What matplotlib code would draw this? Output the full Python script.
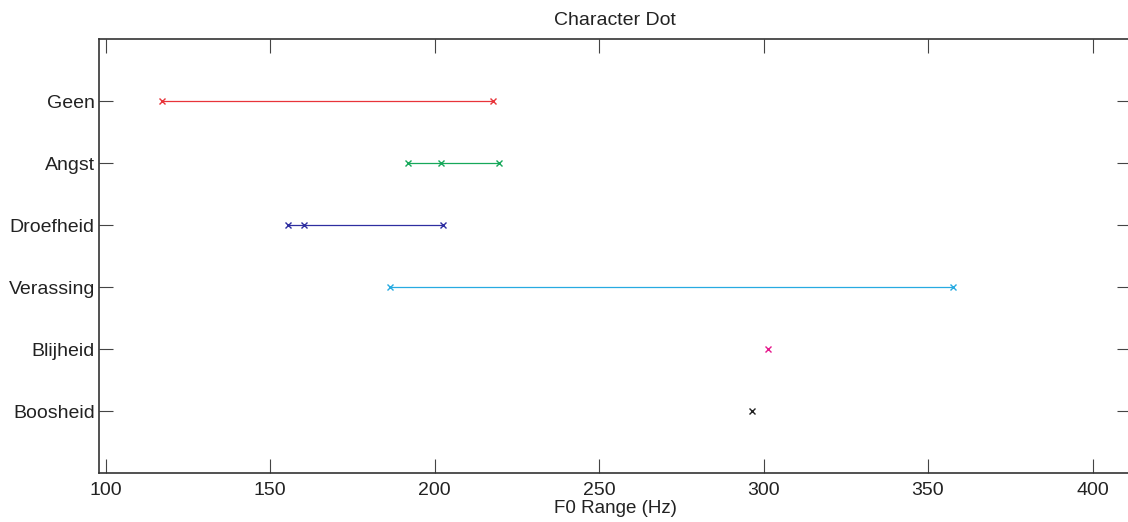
import numpy as np
import matplotlib
matplotlib.use("Agg")
import matplotlib.pyplot as plt

plt.rcParams["font.family"] = ["Liberation Sans", "DejaVu Sans"]

emotions = ["Geen", "Angst", "Droefheid", "Verassing", "Blijheid", "Boosheid"]
f0_values = [
    [117.3, 217.9],
    [191.8, 201.9, 219.6],
    [155.5, 160.2, 202.5],
    [186.6, 357.6],
    [301.3],
    [296.4],
]
colors = ["#e8343a", "#16a85a", "#2e2ea0", "#27aae1", "#e6198c", "#222222"]

fig = plt.figure(figsize=(11.28, 5.22), dpi=100)
ax = fig.add_axes([99 / 1128, 1 - 473 / 522, 1032 / 1128, 434 / 522])

n = len(emotions)
for i, (vals, c) in enumerate(zip(f0_values, colors)):
    y = n - i
    ax.plot(vals, [y] * len(vals), color=c, lw=0.9, marker="x",
            markersize=4, markeredgewidth=1.0)

ax.set_xlim(98, 411.7)
ax.set_ylim(0, n + 1)
ax.set_xticks(np.arange(100, 401, 50))
ax.set_yticks(np.arange(n, 0, -1))
ax.set_yticklabels(emotions)

ax.tick_params(axis="both", direction="in", length=10, width=0.8,
               color="#444444", labelsize=14, labelcolor="#222222",
               top=True, right=True)
ax.tick_params(axis="x", pad=6.5)
ax.tick_params(axis="y", pad=3)
for s in ax.spines.values():
    s.set_color("#333333")
    s.set_linewidth(1.2)

ax.set_title("Character Dot", fontsize=14, color="#222222", pad=10)
ax.set_xlabel("F0 Range (Hz)", fontsize=13.5, color="#222222", labelpad=1)

fig.savefig("out.png", dpi=100)
